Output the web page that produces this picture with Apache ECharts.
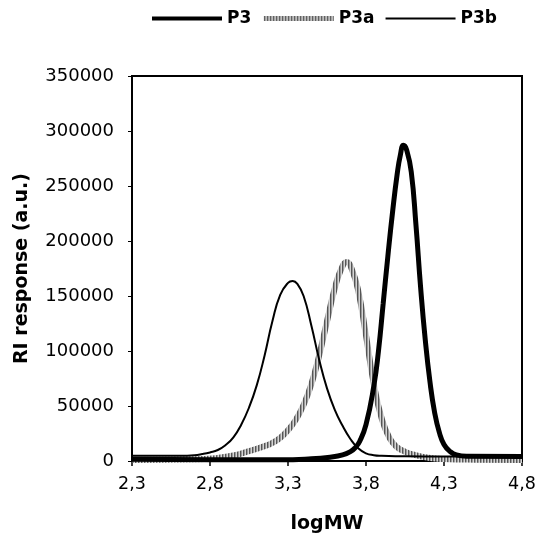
<!DOCTYPE html>
<html>
<head>
<meta charset="utf-8">
<script src="https://cdn.jsdelivr.net/npm/echarts@6/dist/echarts.min.js"></script>
<style>html,body{margin:0;padding:0;background:#fff}#c{width:538px;height:536px}</style>
</head>
<body>
<div id="c"></div>
<script>
var seriesNames = ['P3', 'P3a', 'P3b'];
var xTicks = [2.3, 2.8, 3.3, 3.8, 4.3, 4.8];
var yTicks = [0, 50000, 100000, 150000, 200000, 250000, 300000, 350000];

var p3 = [[2.3,1500],[2.8,1200],[3.25,1100],[3.45,2000],[3.57,3500],[3.65,5500],[3.7,8500],[3.73,12000],[3.76,18000],[3.8,33000],[3.85,68000],[3.88,100000],[3.91,143000],[3.94,186000],[3.97,226000],[4.0,261000],[4.02,278000],[4.04,287000],[4.06,283000],[4.09,263000],[4.12,215000],[4.15,158000],[4.18,110000],[4.21,72000],[4.24,44000],[4.27,26000],[4.3,15000],[4.34,8500],[4.38,5500],[4.45,4300],[4.8,4000]];
var p3a = [[2.3,1000],[2.7,1500],[2.85,2800],[2.95,5000],[3.05,9000],[3.15,13500],[3.2,16500],[3.25,21000],[3.3,28000],[3.35,37500],[3.4,51000],[3.45,70000],[3.5,96000],[3.55,127000],[3.6,157000],[3.64,174000],[3.676,181000],[3.71,174000],[3.75,155000],[3.8,114000],[3.85,70000],[3.9,39000],[3.95,21000],[4.0,12500],[4.05,8500],[4.1,6000],[4.2,3000],[4.3,1800],[4.5,1200],[4.8,1000]];
var p3b = [[2.3,4700],[2.6,4800],[2.7,5300],[2.75,6300],[2.8,7800],[2.85,10000],[2.9,14500],[2.95,21500],[3.0,33000],[3.05,48500],[3.1,69000],[3.15,96000],[3.2,127000],[3.25,151000],[3.3,162000],[3.33,163700],[3.36,161000],[3.4,150000],[3.45,123000],[3.5,92000],[3.55,66000],[3.6,46500],[3.65,32000],[3.7,20000],[3.75,11500],[3.8,7000],[3.85,5300],[3.9,4700],[4.0,4300],[4.3,4000],[4.8,4000]];

// hatched pattern for P3a
var pc = document.createElement('canvas');
pc.width = 3; pc.height = 3;
var pctx = pc.getContext('2d');
var cols = ['#555555', '#9a9a9a', '#d5d5d5'];
for (var i = 0; i < 3; i++) { pctx.fillStyle = cols[i]; pctx.fillRect(i, 0, 1, 3); }
var hatch = { image: pc, repeat: 'repeat' };

var font = 'DejaVu Sans';
var chart = echarts.init(document.getElementById('c'), null, { renderer: 'canvas' });
chart.setOption({
  animation: false,
  backgroundColor: '#fff',
  textStyle: { fontFamily: font, color: '#000' },
  legend: {
    top: 10, left: 150, padding: 0, itemWidth: 70, itemHeight: 14, itemGap: 10,
    itemStyle: { opacity: 0 },
    data: [
      { name: seriesNames[0], lineStyle: { width: 4 } },
      { name: seriesNames[1], lineStyle: { width: 5 } },
      { name: seriesNames[2], lineStyle: { width: 2 } }
    ],
    textStyle: { fontFamily: font, fontWeight: 'bold', fontSize: 17, color: '#000' }
  },
  grid: { left: 132, right: 16, top: 76, bottom: 75, show: true, borderColor: '#000', borderWidth: 2,
    containLabel: false, outerBoundsMode: 'none' },
  xAxis: {
    type: 'value', min: 2.3, max: 4.8,
    name: 'logMW', nameLocation: 'middle', nameGap: 54,
    nameTextStyle: { fontFamily: font, fontWeight: 'bold', fontSize: 19, color: '#000' },
    axisLine: { show: true, lineStyle: { color: '#000', width: 2 } },
    axisTick: { show: true, length: 5, customValues: xTicks, lineStyle: { color: '#000', width: 1.5 } },
    axisLabel: { customValues: xTicks, margin: 14, fontSize: 17.5, color: '#000', fontFamily: font,
      formatter: function (v) { return v.toFixed(1).replace('.', ','); } },
    splitLine: { show: false }
  },
  yAxis: {
    type: 'value', min: 0, max: 350000, interval: 50000,
    name: 'RI response (a.u.)', nameLocation: 'middle', nameGap: 100, nameRotate: 90,
    nameTextStyle: { fontFamily: font, fontWeight: 'bold', fontSize: 19, color: '#000' },
    axisLine: { show: true, lineStyle: { color: '#000', width: 2 } },
    axisTick: { show: true, length: 4, lineStyle: { color: '#000', width: 1 } },
    axisLabel: { margin: 18, fontSize: 18, color: '#000', fontFamily: font,
      formatter: function (v) { return String(v); } },
    splitLine: { show: false }
  },
  series: [
    { name: 'P3', type: 'line', data: p3, symbol: 'none', smooth: 0.5, z: 3,
      lineStyle: { color: '#000', width: 5 }, itemStyle: { color: '#000' } },
    { name: 'P3a', type: 'line', data: p3a, symbol: 'none', smooth: 0.5, z: 2,
      lineStyle: { color: hatch, width: 6 }, itemStyle: { color: hatch } },
    { name: 'P3b', type: 'line', data: p3b, symbol: 'none', smooth: 0.5, z: 4,
      lineStyle: { color: '#000', width: 2 }, itemStyle: { color: '#000' } }
  ]
});
</script>
</body>
</html>
